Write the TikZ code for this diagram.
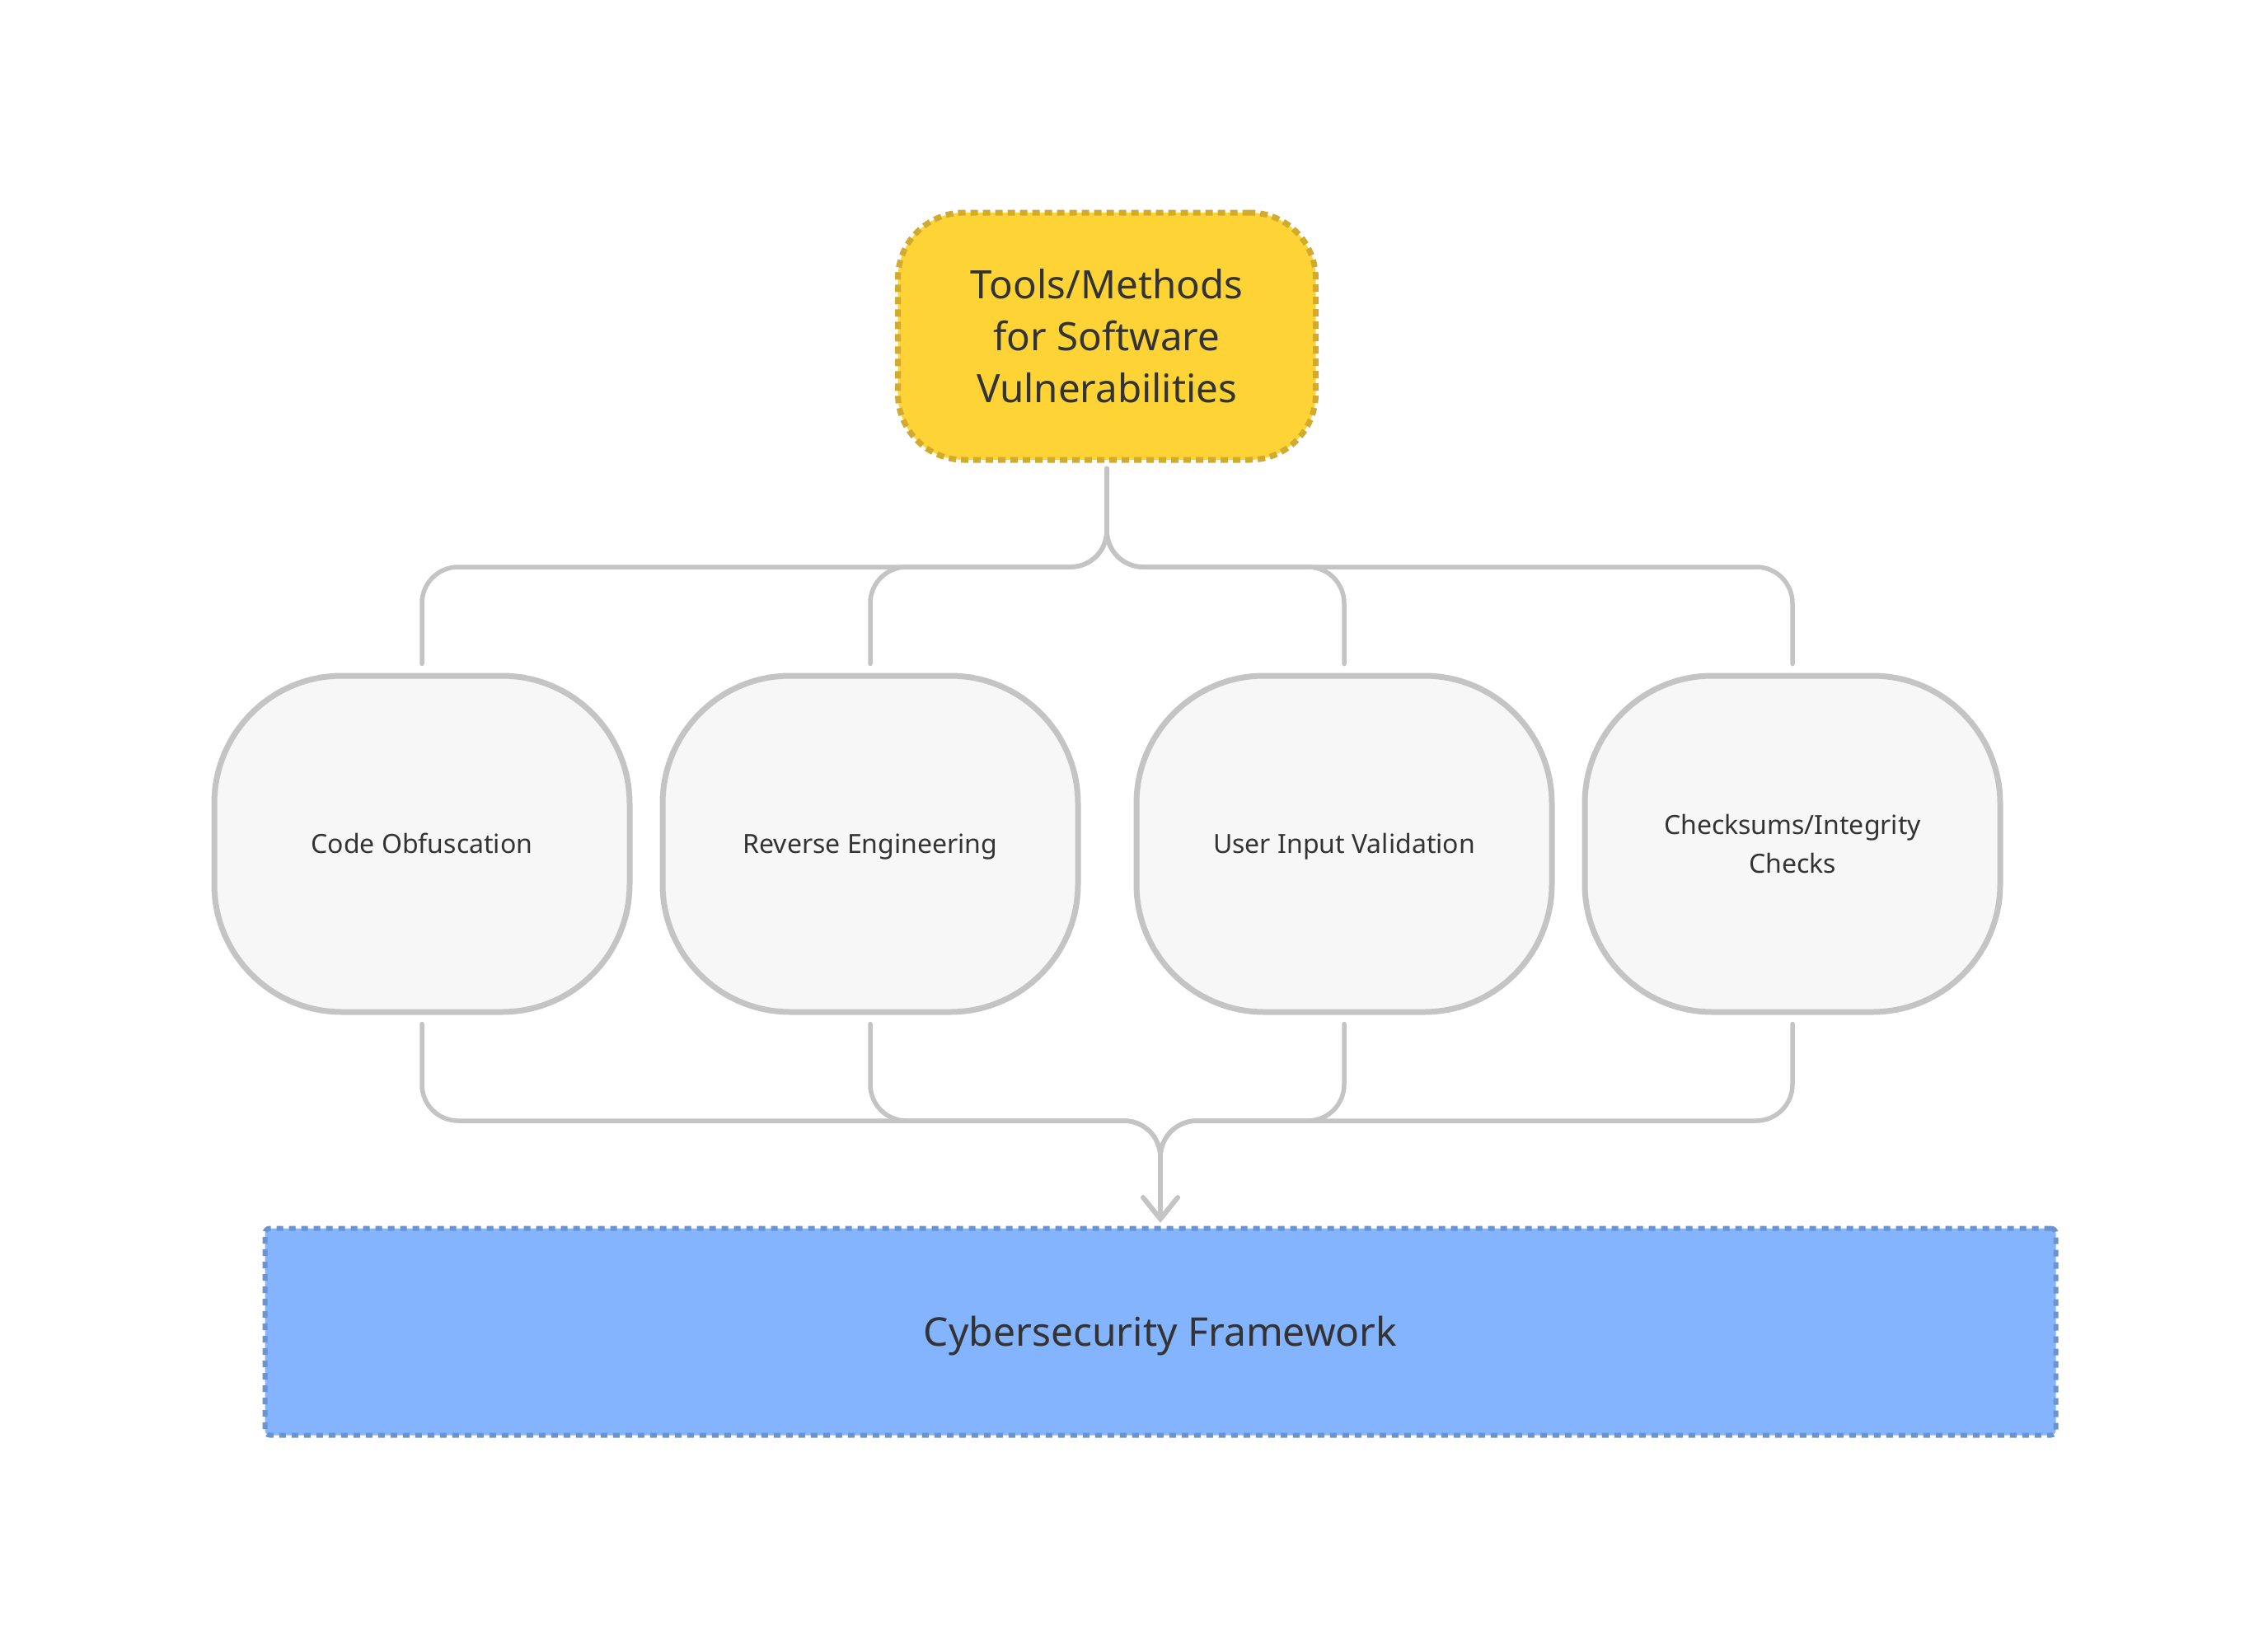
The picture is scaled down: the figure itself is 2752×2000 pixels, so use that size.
\documentclass[tikz,border=0pt]{standalone}
\usepackage{fontspec}
\setmainfont{Noto Sans}
\usetikzlibrary{arrows.meta,calc}
\definecolor{conncol}{HTML}{C4C4C4}
\definecolor{midfill}{HTML}{F7F7F7}
\definecolor{topfill}{HTML}{FDD335}
\definecolor{topline}{HTML}{D2AA30}
\definecolor{botfill}{HTML}{85B4FF}
\definecolor{botline}{HTML}{6B93D0}
\definecolor{txt}{HTML}{333333}
\tikzset{
  conn/.style={draw=conncol, line width=5.5pt, rounded corners=44pt, line cap=round},
  midbox/.style={draw=conncol, fill=midfill, line width=7pt, rounded corners=155pt,
    minimum width=504pt, minimum height=408pt, text=txt,
    font=\fontsize{32}{47}\selectfont},
  midone/.style={text height=22.8pt, text depth=0pt},
  topbox/.style={draw=topline, fill=topfill, line width=7pt, dash pattern=on 9pt off 6pt,
    rounded corners=80pt, minimum width=507pt, minimum height=300pt, align=center, text=txt,
    font=\fontsize{47.5}{63}\selectfont},
  botbox/.style={draw=botline, fill=botfill, line width=6pt, dash pattern=on 8pt off 7pt,
    rounded corners=6pt, minimum width=2173pt, minimum height=251pt, text=txt,
    font=\fontsize{48}{63}\selectfont, text height=34.3pt, text depth=0pt},
}
\begin{document}
\begin{tikzpicture}[x=1pt,y=-1pt]
\useasboundingbox[fill=white] (0,0) rectangle (2752,2000);
\node[topbox] (top) at (1343,408) {Tools/Methods\\for Software\\Vulnerabilities};
\node[midbox,midone] (n1) at (512,1024) {Code Obfuscation};
\node[midbox,midone] (n2) at (1056,1024) {Reverse Engineering};
\node[midbox,midone] (n3) at (1631,1024) {User Input Validation};
\node[midbox,align=center] (n4) at (2175,1024) {Checksums/Integrity\\Checks};
\node[botbox] (bot) at (1408,1616) {Cybersecurity Framework};
\coordinate (hub) at (1343,688);
\coordinate (merge) at (1408,1360);
\foreach \n in {n1,n2,n3,n4}{
  \draw[conn] ($(top.south)+(0,7)$) -- (hub) -| ($(\n.north)+(0,-11)$);
  \draw[conn, -{Straight Barb[length=26pt,width=42pt,line cap=round]}]
     ($(\n.south)+(0,11)$) |- (merge) -- ($(bot.north)+(0,-4)$);
}
\end{tikzpicture}
\end{document}
